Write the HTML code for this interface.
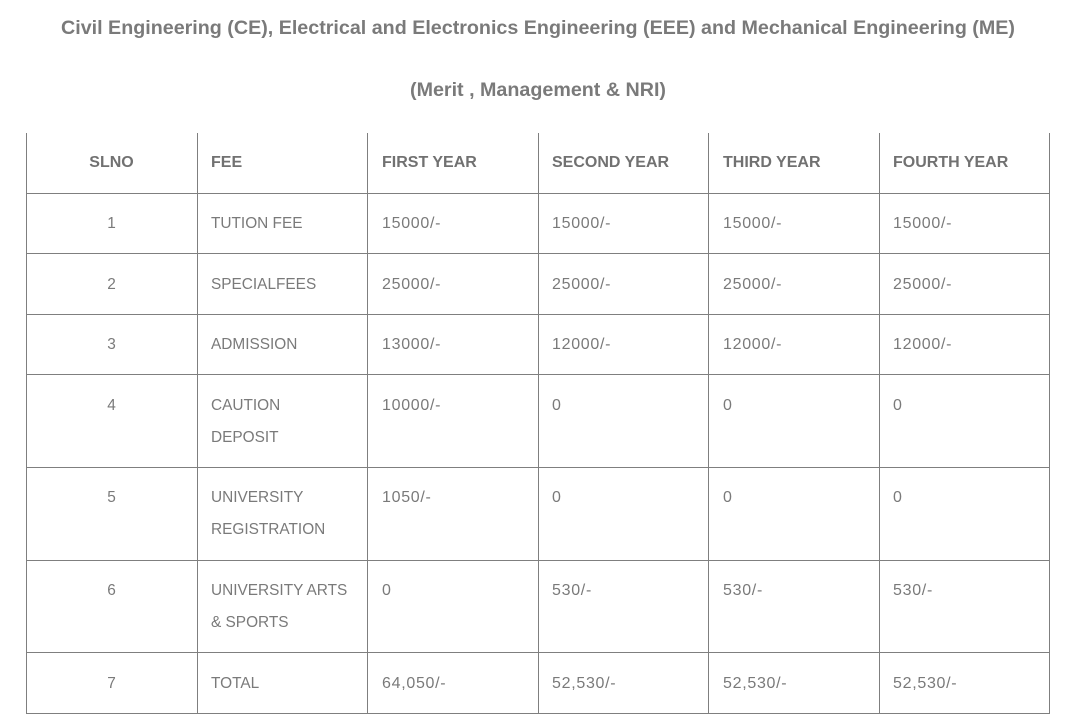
<!DOCTYPE html>
<html>
<head>
<meta charset="utf-8">
<style>
  html,body{margin:0;padding:0;background:#fff;}
  body{width:1081px;height:728px;position:relative;overflow:hidden;font-family:"Liberation Sans",sans-serif;}
  .t{position:absolute;white-space:nowrap;}
  .title{left:0;width:1076px;text-align:center;font-weight:bold;font-size:19.7px;line-height:24px;color:#7a7a7a;}
  .h{position:absolute;left:26px;width:1024px;height:1px;background:#7f7f7f;}
  .v{position:absolute;top:133px;width:1px;height:581px;background:#7f7f7f;}
  .hd{font-weight:bold;font-size:16px;line-height:32px;color:#717171;}
  .tx{font-size:15.4px;line-height:32px;color:#7a7a7a;}
  .nm{font-size:16px;line-height:32px;color:#7a7a7a;letter-spacing:0.7px;}
  .c1{width:171px;left:26px;text-align:center;}
</style>
</head>
<body>
<div class="t title" style="top:16px;">Civil Engineering (CE), Electrical and Electronics Engineering (EEE) and Mechanical Engineering (ME)</div>
<div class="t title" style="top:78px;">(Merit , Management &amp; NRI)</div>

<!-- horizontal lines -->
<div class="h" style="top:193px"></div>
<div class="h" style="top:253px"></div>
<div class="h" style="top:314px"></div>
<div class="h" style="top:374px"></div>
<div class="h" style="top:467px"></div>
<div class="h" style="top:560px"></div>
<div class="h" style="top:652px"></div>
<div class="h" style="top:713px"></div>

<!-- vertical lines -->
<div class="v" style="left:26px"></div>
<div class="v" style="left:197px"></div>
<div class="v" style="left:367px"></div>
<div class="v" style="left:538px"></div>
<div class="v" style="left:708px"></div>
<div class="v" style="left:879px"></div>
<div class="v" style="left:1049px"></div>

<!-- header -->
<div class="t hd c1" style="top:147px;">SLNO</div>
<div class="t hd" style="top:147px;left:211px;">FEE</div>
<div class="t hd" style="top:147px;left:382px;">FIRST YEAR</div>
<div class="t hd" style="top:147px;left:552px;">SECOND YEAR</div>
<div class="t hd" style="top:147px;left:723px;">THIRD YEAR</div>
<div class="t hd" style="top:147px;left:893px;">FOURTH YEAR</div>

<!-- row 1 -->
<div class="t tx c1" style="top:208px;">1</div>
<div class="t tx" style="top:208px;left:211px;">TUTION FEE</div>
<div class="t nm" style="top:208px;left:382px;">15000/-</div>
<div class="t nm" style="top:208px;left:552px;">15000/-</div>
<div class="t nm" style="top:208px;left:723px;">15000/-</div>
<div class="t nm" style="top:208px;left:893px;">15000/-</div>

<!-- row 2 -->
<div class="t tx c1" style="top:269px;">2</div>
<div class="t tx" style="top:269px;left:211px;">SPECIALFEES</div>
<div class="t nm" style="top:269px;left:382px;">25000/-</div>
<div class="t nm" style="top:269px;left:552px;">25000/-</div>
<div class="t nm" style="top:269px;left:723px;">25000/-</div>
<div class="t nm" style="top:269px;left:893px;">25000/-</div>

<!-- row 3 -->
<div class="t tx c1" style="top:329px;">3</div>
<div class="t tx" style="top:329px;left:211px;">ADMISSION</div>
<div class="t nm" style="top:329px;left:382px;">13000/-</div>
<div class="t nm" style="top:329px;left:552px;">12000/-</div>
<div class="t nm" style="top:329px;left:723px;">12000/-</div>
<div class="t nm" style="top:329px;left:893px;">12000/-</div>

<!-- row 4 -->
<div class="t tx c1" style="top:390px;">4</div>
<div class="t tx" style="top:390px;left:211px;">CAUTION<br>DEPOSIT</div>
<div class="t nm" style="top:390px;left:382px;">10000/-</div>
<div class="t nm" style="top:390px;left:552px;">0</div>
<div class="t nm" style="top:390px;left:723px;">0</div>
<div class="t nm" style="top:390px;left:893px;">0</div>

<!-- row 5 -->
<div class="t tx c1" style="top:482px;">5</div>
<div class="t tx" style="top:482px;left:211px;">UNIVERSITY<br>REGISTRATION</div>
<div class="t nm" style="top:482px;left:382px;">1050/-</div>
<div class="t nm" style="top:482px;left:552px;">0</div>
<div class="t nm" style="top:482px;left:723px;">0</div>
<div class="t nm" style="top:482px;left:893px;">0</div>

<!-- row 6 -->
<div class="t tx c1" style="top:575px;">6</div>
<div class="t tx" style="top:575px;left:211px;">UNIVERSITY ARTS<br>&amp; SPORTS</div>
<div class="t nm" style="top:575px;left:382px;">0</div>
<div class="t nm" style="top:575px;left:552px;">530/-</div>
<div class="t nm" style="top:575px;left:723px;">530/-</div>
<div class="t nm" style="top:575px;left:893px;">530/-</div>

<!-- row 7 -->
<div class="t tx c1" style="top:668px;">7</div>
<div class="t tx" style="top:668px;left:211px;">TOTAL</div>
<div class="t nm" style="top:668px;left:382px;">64,050/-</div>
<div class="t nm" style="top:668px;left:552px;">52,530/-</div>
<div class="t nm" style="top:668px;left:723px;">52,530/-</div>
<div class="t nm" style="top:668px;left:893px;">52,530/-</div>
</body>
</html>
